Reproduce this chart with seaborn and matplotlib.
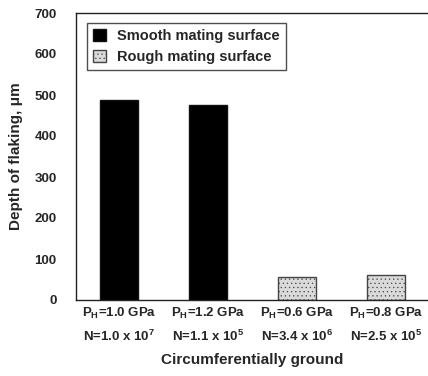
"""Depth of flaking bar chart, smooth vs rough mating surface."""

import matplotlib

matplotlib.use("Agg")

import matplotlib.pyplot as plt
import pandas as pd
import seaborn as sns

sns.set_theme(style="white")
plt.rcParams["font.family"] = ["Liberation Sans", "DejaVu Sans"]
plt.rcParams["font.weight"] = "bold"
plt.rcParams["mathtext.default"] = "regular"
plt.rcParams["hatch.linewidth"] = 0.4

conditions = [
    "P$_H$=1.0 GPa\nN=1.0 x 10$^7$",
    "P$_H$=1.2 GPa\nN=1.1 x 10$^5$",
    "P$_H$=0.6 GPa\nN=3.4 x 10$^6$",
    "P$_H$=0.8 GPa\nN=2.5 x 10$^5$",
]
surfaces = ["Smooth mating surface", "Smooth mating surface",
            "Rough mating surface", "Rough mating surface"]
depth = [488, 476, 57, 61]
yticks = [0, 100, 200, 300, 400, 500, 600, 700]

df = pd.DataFrame({"condition": conditions, "surface": surfaces, "depth": depth})

fig = plt.figure(figsize=(4.28, 3.76), dpi=100)
ax = fig.add_axes([76 / 428, 76 / 376, 352 / 428, 287 / 376])

sns.barplot(
    data=df, x="condition", y="depth", hue="surface",
    hue_order=["Smooth mating surface", "Rough mating surface"],
    palette=["#000000", "#dadada"], dodge=False, width=0.42,
    edgecolor="#111111", linewidth=1.0, ax=ax,
)
for patch in ax.patches:
    if patch.get_facecolor()[0] > 0.5:
        patch.set_hatch("....")
        patch.set_edgecolor("#444444")

ax.set_xlim(-0.483, 3.47)
ax.set_ylim(0, 700)
ax.set_yticks(yticks)
ax.tick_params(axis="y", labelsize=9.5, length=0, pad=14)
ax.tick_params(axis="x", labelsize=9.5, length=0, pad=4)
for lbl in ax.get_xticklabels():
    lbl.set_linespacing(1.7)
for lbl in ax.get_yticklabels():
    lbl.set_fontweight("bold")

ax.set_xlabel("Circumferentially ground", fontsize=11, fontweight="bold", labelpad=6)
ax.set_ylabel("Depth of flaking, \u03bcm", fontsize=11, fontweight="bold", labelpad=8)

ax.spines["right"].set_visible(False)
for side in ["left", "bottom", "top"]:
    ax.spines[side].set_color("#222222")
    ax.spines[side].set_linewidth(1.0)

leg = ax.legend(
    loc="upper left", bbox_to_anchor=(0.01, 0.99), fontsize=10.5,
    frameon=True, fancybox=False, edgecolor="#222222",
    handlelength=0.9, handleheight=0.9, borderpad=0.4, labelspacing=0.5,
)
leg.get_frame().set_linewidth(1.0)
for t in leg.get_texts():
    t.set_fontweight("bold")

fig.savefig("out.png", dpi=100)
